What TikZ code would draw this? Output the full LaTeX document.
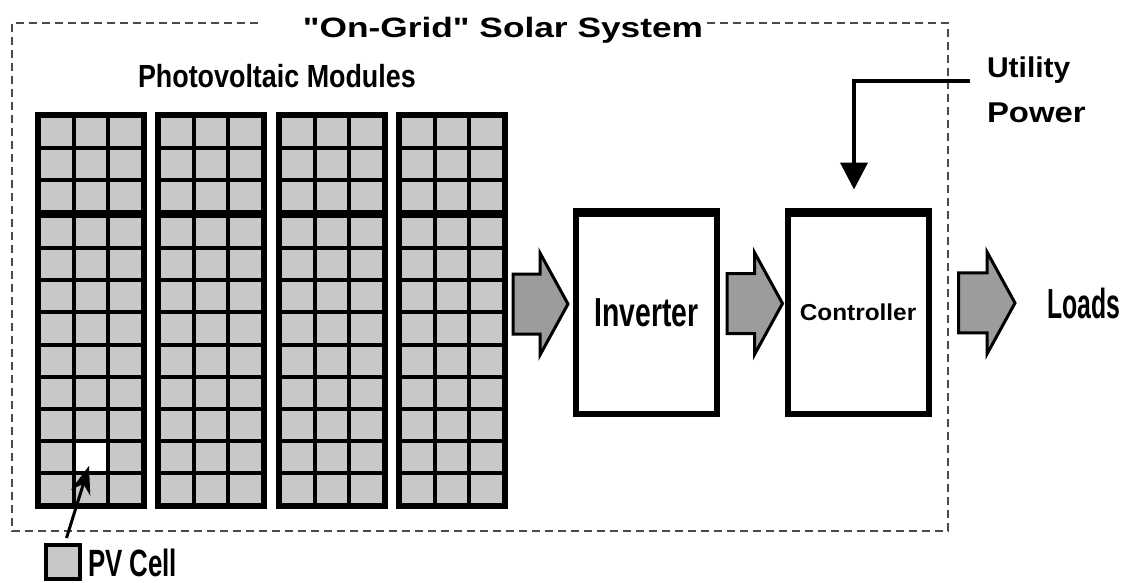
\documentclass[tikz,border=0pt]{standalone}
\usepackage{fontspec}
\setmainfont{Liberation Sans}
\newfontfamily\lsans{Liberation Sans}
\usetikzlibrary{arrows.meta,calc}
\definecolor{cellgray}{HTML}{C8C8C8}
\definecolor{arrgray}{HTML}{9C9C9C}
\definecolor{framegray}{HTML}{4A4A4A}
\newcommand{\fsz}[1]{\lsans\fontsize{#1pt}{#1pt}\selectfont\bfseries}
\newcommand{\blockarrow}[2]{%
  \draw[barrow] let \p1=#1, \p2=#2 in
    (\x2,\y2) -- (\x2-28pt,\y2+51pt) -- (\x2-28pt,\y2+30pt) -- (\x1,\y2+30pt)
    -- (\x1,\y2-30pt) -- (\x2-28pt,\y2-30pt) -- (\x2-28pt,\y2-51pt) -- cycle;}
\tikzset{
  frame/.style={draw=framegray, line width=1.5pt, dash pattern=on 8pt off 5pt},
  boxst/.style={draw=black, line width=6pt, fill=white, minimum width=141pt,
    minimum height=203pt, inner sep=0pt, outer sep=0pt},
  barrow/.style={draw=black, line width=3pt, fill=arrgray, line join=miter},
  util/.style={line width=4pt, -{Triangle[width=27pt,length=27pt]}},
  ptr/.style={line width=3pt, -{Stealth[width=20pt,length=28pt]}},
  lbl/.style={inner sep=0pt, outer sep=0pt, anchor=base west},
  legendst/.style={draw=black, line width=4pt, fill=cellgray, minimum size=34pt,
    inner sep=0pt, outer sep=0pt},
  whitecell/.style={fill=white, minimum width=30.67pt, minimum height=28.08pt,
    inner sep=0pt, outer sep=0pt, anchor=north west},
}
\begin{document}
\begin{tikzpicture}[x=1pt,y=-1pt]
\useasboundingbox (0,0) rectangle (1121,583);
\fill[white] (0,0) rectangle (1121,583);
% dashed system frame
\draw[frame] (258,23) -- (12,23) -- (12,531) -- (948,531) -- (948,23) -- (705,23);
% title
\node[lbl, anchor=base, font=\fsz{28}] (title) at (503,38) {\scalebox{1.26}[1]{"On-Grid" Solar System}};
% modules
\foreach \L in {35,155,276,396}{
  \fill[black] (\L,112) rectangle (\L+112,509);
  \foreach \i in {0,1,2}{
    \foreach \j in {0,...,11}{
      \pgfmathsetmacro{\xa}{\L+6+\i*34.67}
      \pgfmathsetmacro{\ya}{118+\j*32.08+ifthenelse(\j>2,4,0)}
      \fill[cellgray] (\xa,\ya) rectangle ++(30.67,28.08);
    }
  }
}
\node[whitecell] (pvcell) at (75.67,442.8) {};
\node[inner sep=0pt, outer sep=0pt, minimum width=473pt, minimum height=397pt] (pv) at (271.5,310.5) {};
\node[lbl, font=\fsz{32}] (pvlabel) at (138,88) {\scalebox{0.84}[1]{Photovoltaic Modules}};
% inverter and controller
\node[boxst, font=\fsz{40.5}] (inv) at (646.5,312.5) {\scalebox{0.70}[1]{Inverter}};
\fill ($(inv.north west)+(-3,-3)$) rectangle ($(inv.north east)+(3,6)$);
\node[boxst, font=\fsz{23}] (ctl) at (858,312) {\scalebox{1.06}[1]{Controller}};
\fill ($(ctl.north west)+(-3,-3)$) rectangle ($(ctl.north east)+(3,6)$);
% loads
\node[lbl, font=\fsz{42}] (loads) at (1047,318) {\scalebox{0.59}[1]{Loads}};
% block arrows
\blockarrow{($(pv.east)+(5,0)$)}{($(inv.west)+(-8,-8.5)$)}
\blockarrow{($(inv.east)+(10,0)$)}{($(ctl.west)+(-5,-8.5)$)}
\blockarrow{($(ctl.east)+(30,0)$)}{($(loads.west)+(-32,0)$)}
% utility power
\node[lbl, font=\fsz{28.6}] (utility) at (987,78) {\scalebox{1.05}[1]{Utility}};
\node[lbl, font=\fsz{28.6}] (power) at (987,123) {\scalebox{1.15}[1]{Power}};
\coordinate (ustart) at (970,81);
\draw[util] (ustart) -| ($(ctl.north)+(-4,-21)$);
% PV cell legend
\node[legendst] (legend) at (62.5,562) {};
\node[lbl, font=\fsz{38}] (pvcelllabel) at (88,576) {\scalebox{0.68}[1]{PV Cell}};
\draw[ptr] ($(legend.north)+(4,-7)$) -- ($(pvcell.center)+(-2,9)$);
\end{tikzpicture}
\end{document}
